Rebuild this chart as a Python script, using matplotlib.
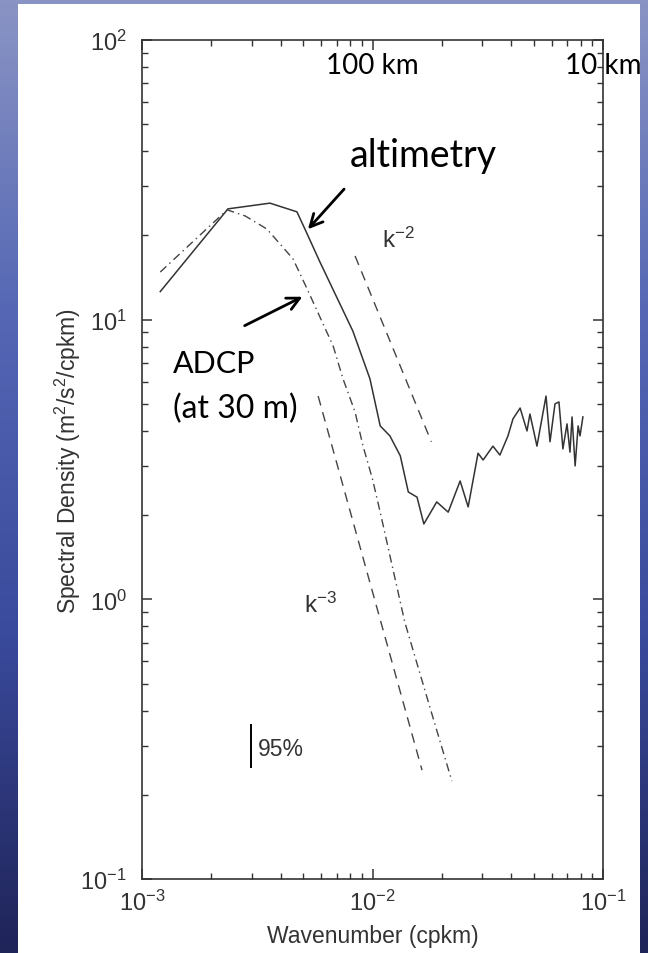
import numpy as np
import matplotlib
matplotlib.use("Agg")
import matplotlib.pyplot as plt
from matplotlib.colors import LinearSegmentedColormap
from matplotlib.patches import Rectangle

# altimetry spectrum (solid)
alt_k = [1.20e-3, 2.36e-3, 3.59e-3, 4.70e-3, 5.09e-3, 5.91e-3, 8.22e-3, 9.75e-3,
         1.08e-2, 1.19e-2, 1.32e-2, 1.43e-2, 1.56e-2, 1.67e-2, 1.90e-2, 2.13e-2,
         2.40e-2, 2.60e-2, 2.87e-2, 3.02e-2, 3.33e-2, 3.57e-2, 3.87e-2, 4.07e-2,
         4.37e-2, 4.68e-2, 4.82e-2, 5.17e-2, 5.33e-2, 5.66e-2, 5.89e-2, 6.19e-2,
         6.44e-2, 6.70e-2, 6.98e-2, 7.19e-2, 7.34e-2, 7.57e-2, 7.80e-2, 7.95e-2,
         8.18e-2]
alt_S = [12.6, 24.9, 26.1, 24.3, 21.1, 16.1, 9.1, 6.14,
         4.17, 3.84, 3.26, 2.42, 2.32, 1.86, 2.23, 2.05,
         2.65, 2.14, 3.33, 3.15, 3.53, 3.28, 3.84, 4.42,
         4.83, 4.00, 4.60, 3.53, 4.06, 5.33, 3.66, 5.00,
         5.08, 3.45, 4.24, 3.36, 4.49, 3.00, 4.17, 3.84,
         4.49]

# ADCP spectrum at 30 m (dash-dot)
adcp_k = [1.20e-3, 2.34e-3, 2.80e-3, 3.48e-3, 4.52e-3, 5.20e-3, 6.75e-3, 7.45e-3,
          8.40e-3, 9.10e-3, 1.00e-2, 1.08e-2, 1.38e-2, 1.81e-2, 2.21e-2]
adcp_S = [14.8, 24.7, 23.5, 21.1, 16.5, 12.9, 8.05, 6.14,
          4.68, 3.53, 2.69, 2.05, 0.83, 0.389, 0.224]

# reference slopes (dashed)
km2_k = [8.40e-3, 1.80e-2]
km2_S = [16.9, 3.66]
km3_k = [5.81e-3, 1.64e-2]
km3_S = [5.33, 0.245]

# 95% confidence bar
ci_k = [2.97e-3, 2.97e-3]
ci_S = [0.252, 0.356]

plt.rcParams["font.family"] = ["Liberation Sans", "DejaVu Sans"]
plt.rcParams["mathtext.default"] = "regular"

fig = plt.figure(figsize=(6.48, 9.54), dpi=100)

# slide background
bg = fig.add_axes([0, 0, 1, 1], zorder=-10)
cmap = LinearSegmentedColormap.from_list("slide", ["#8a94c4", "#5466b4", "#3a4a9c", "#1f2458"])
bg.imshow(np.linspace(0, 1, 256).reshape(-1, 1), aspect="auto", cmap=cmap,
          extent=[0, 1, 0, 1], transform=bg.transAxes)
bg.add_patch(Rectangle((18 / 648, 0), 622 / 648, 949 / 954, transform=bg.transAxes,
                       facecolor="white", edgecolor="none"))
bg.set_axis_off()

ax = fig.add_axes([142 / 648, 74 / 954, 461 / 648, 839 / 954])
ax.set_xscale("log")
ax.set_yscale("log")
ax.set_xlim(1e-3, 1e-1)
ax.set_ylim(1e-1, 1e2)

gray = "#333333"
ax.plot(alt_k, alt_S, color="#333333", lw=1.1)
ax.plot(adcp_k, adcp_S, color="#444444", lw=1.0, dashes=(6, 3, 1, 3))
ax.plot(km2_k, km2_S, color="#444444", lw=1.0, dashes=(7, 5))
ax.plot(km3_k, km3_S, color="#444444", lw=1.0, dashes=(7, 5))
ax.plot(ci_k, ci_S, color="black", lw=1.4)

ax.text(3.18e-3, 0.294, "95%", fontsize=16.5, color=gray, va="center", ha="left")
ax.text(1.10e-2, 18.2, r"k$^{-2}$", fontsize=17.5, color=gray, va="baseline", ha="left")
ax.text(5.05e-3, 0.90, r"k$^{-3}$", fontsize=17.5, color=gray, va="baseline", ha="left")

ann = ["Lato", "DejaVu Sans"]
ax.text(1e-2, 76, "100 km", fontsize=20, family=ann, color="black", ha="center", va="baseline")
ax.text(1e-1, 76, "10 km", fontsize=20, family=ann, color="black", ha="center", va="baseline",
        clip_on=False)
ax.text(7.98e-3, 35.5, "altimetry", fontsize=27, family=ann, color="black", ha="left", va="baseline")
ax.text(1.36e-3, 6.50, "ADCP", fontsize=22, family=ann, color="black", ha="left", va="baseline")
ax.text(1.36e-3, 4.49, "(at 30 m)", fontsize=23, family=ann, color="black", ha="left", va="baseline")

arrow = dict(arrowstyle="->,head_length=0.9,head_width=0.45", color="black", lw=2)
ax.annotate("", xy=(5.15e-3, 20.7), xytext=(7.67e-3, 29.8), arrowprops=arrow)
ax.annotate("", xy=(5.09e-3, 12.2), xytext=(2.72e-3, 9.42), arrowprops=arrow)

for s in ax.spines.values():
    s.set_color("#333333")
    s.set_linewidth(1.2)
ax.tick_params(which="both", direction="in", top=True, right=True, colors="#333333",
               labelcolor=gray, labelsize=17)
ax.tick_params(which="major", length=7, width=1.1)
ax.tick_params(which="minor", length=4.5, width=1.0)
ax.tick_params(axis="y", which="major", pad=11)
ax.tick_params(axis="x", which="major", pad=8)

ax.set_xlabel("Wavenumber (cpkm)", fontsize=16.5, color=gray, labelpad=6)
ax.set_ylabel(r"Spectral Density (m$^2$/s$^2$/cpkm)", fontsize=16.5, color=gray)
ax.yaxis.set_label_coords(-0.128, 0.5)

fig.savefig("out.png", dpi=100)
